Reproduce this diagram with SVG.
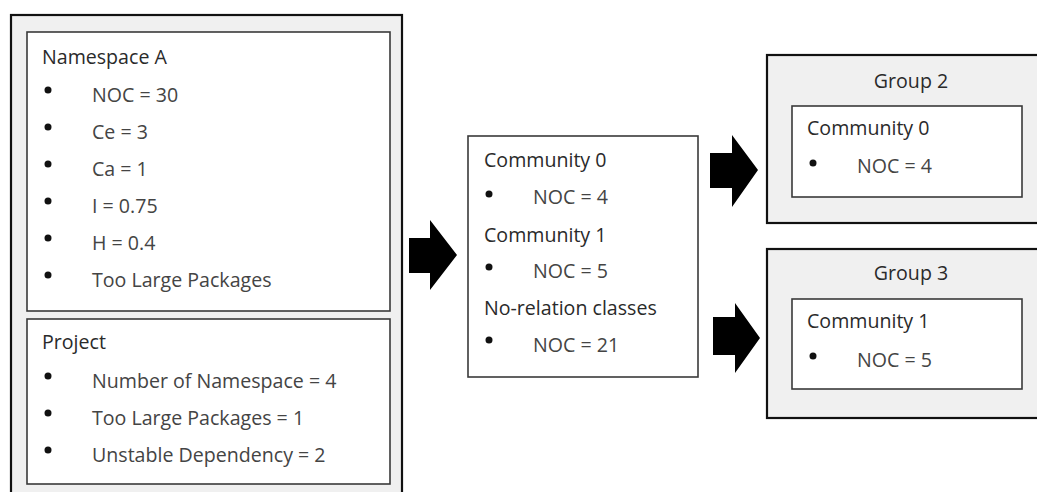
<svg xmlns="http://www.w3.org/2000/svg" width="1037" height="492" viewBox="0 0 1037 492">
  <style>
    .panel { fill: #f0f0f0; stroke: #111; stroke-width: 2.2; }
    .card { fill: #fff; stroke: #3a3a3a; stroke-width: 1.6; }
    text { font-family: "Open Sans", "Noto Sans", sans-serif; font-size: 19.6px; fill: #444; }
    .title { fill: #2a2a2a; }
    .dot { fill: #111; }
    .arrow { fill: #000; }
  </style>
  <rect width="1037" height="492" fill="#fff"/>

  <!-- Metrics panel: namespace and project summaries -->
  <g id="metrics">
    <rect class="panel" x="11" y="15" width="391" height="490"/>
    <g id="namespace-a">
      <rect class="card" x="27" y="32" width="363" height="279"/>
      <text class="title" x="42" y="64">Namespace A</text>
      <circle class="dot" cx="48" cy="90" r="3.5"/><text x="92" y="102">NOC = 30</text>
      <circle class="dot" cx="48" cy="127" r="3.5"/><text x="92" y="139">Ce = 3</text>
      <circle class="dot" cx="48" cy="164" r="3.5"/><text x="92" y="176">Ca = 1</text>
      <circle class="dot" cx="48" cy="201" r="3.5"/><text x="92" y="213">I = 0.75</text>
      <circle class="dot" cx="48" cy="238" r="3.5"/><text x="92" y="250">H = 0.4</text>
      <circle class="dot" cx="48" cy="275" r="3.5"/><text x="92" y="287">Too Large Packages</text>
    </g>
    <g id="project">
      <rect class="card" x="27" y="319" width="363" height="165"/>
      <text class="title" x="42" y="349">Project</text>
      <circle class="dot" cx="48" cy="376" r="3.5"/><text x="92" y="388">Number of Namespace = 4</text>
      <circle class="dot" cx="48" cy="413" r="3.5"/><text x="92" y="425">Too Large Packages = 1</text>
      <circle class="dot" cx="48" cy="450" r="3.5"/><text x="92" y="462">Unstable Dependency = 2</text>
    </g>
  </g>

  <!-- Community detection result -->
  <g id="communities">
    <rect class="card" x="468" y="136" width="230" height="241"/>
    <text class="title" x="484" y="167">Community 0</text>
    <circle class="dot" cx="489" cy="194" r="3.5"/><text x="533" y="204">NOC = 4</text>
    <text class="title" x="484" y="242">Community 1</text>
    <circle class="dot" cx="489" cy="267" r="3.5"/><text x="533" y="278">NOC = 5</text>
    <text class="title" x="484" y="315">No-relation classes</text>
    <circle class="dot" cx="489" cy="340" r="3.5"/><text x="533" y="352">NOC = 21</text>
  </g>

  <!-- Group 2 -->
  <g id="group-2">
    <rect class="panel" x="767" y="55" width="290" height="168"/>
    <text class="title" x="911" y="88" text-anchor="middle">Group 2</text>
    <rect class="card" x="792" y="106" width="230" height="91"/>
    <text class="title" x="807" y="135">Community 0</text>
    <circle class="dot" cx="813" cy="163" r="3.5"/><text x="857" y="173">NOC = 4</text>
  </g>

  <!-- Group 3 -->
  <g id="group-3">
    <rect class="panel" x="767" y="249" width="290" height="169"/>
    <text class="title" x="911" y="280" text-anchor="middle">Group 3</text>
    <rect class="card" x="792" y="299" width="230" height="90"/>
    <text class="title" x="807" y="328">Community 1</text>
    <circle class="dot" cx="813" cy="356" r="3.5"/><text x="857" y="367">NOC = 5</text>
  </g>

  <!-- Block arrows between stages -->
  <g id="connectors">
    <polygon class="arrow" points="409,238 430,238 430,220 457,255 430,290 430,273 409,273"/>
    <polygon class="arrow" points="710,153 732,153 732,135 758,170 732,207 732,188 710,188"/>
    <polygon class="arrow" points="713,317 735,317 735,303 760,338 735,373 735,355 713,355"/>
  </g>
</svg>
